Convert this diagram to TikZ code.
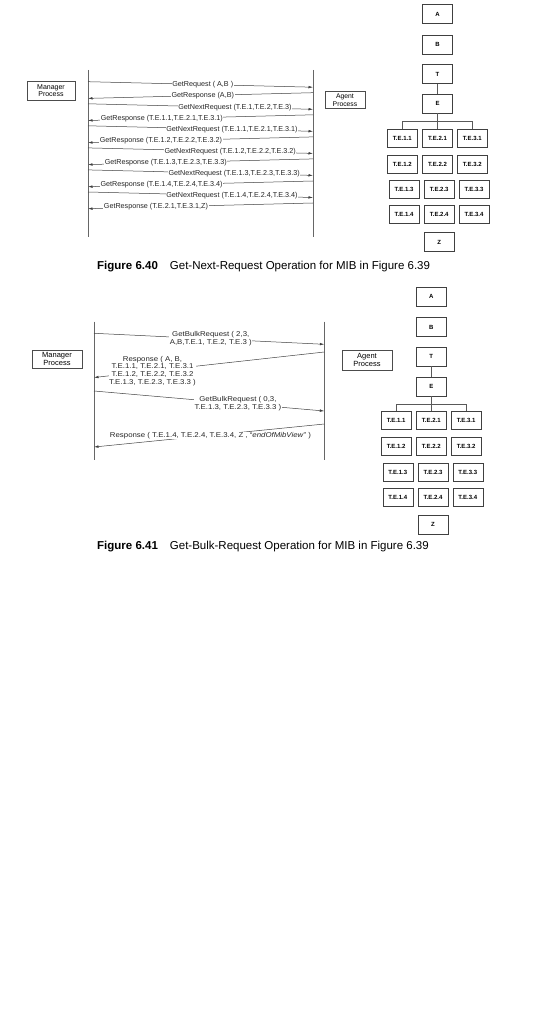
\documentclass[tikz,border=0pt]{standalone}
\usepackage{fontspec}
\setmainfont{Liberation Sans}
\newfontfamily\bulkfam[FakeStretch=1.12]{Liberation Sans}
\usetikzlibrary{arrows.meta,positioning}
\def\seqfont{\fontsize{7.2}{8}\selectfont}
\def\bulkfont{\bulkfam\fontsize{7}{7.7}\selectfont}
\tikzset{
	proc/.style={draw=black!70, line width=0.5pt, minimum width=48pt, minimum height=19pt, inner sep=0pt, align=center, font=\fontsize{7}{7.6}\selectfont},
	life/.style={draw=black!60, line width=0.6pt},
	msg/.style={draw=black!75, line width=0.5pt, -{Latex[length=4.5pt,width=2.6pt]}},
	lbl/.style={fill=white, inner sep=0.6pt, text=black!85, font=\seqfont},
	bulk/.style={lbl, font=\bulkfont, align=center},
	mib/.style={draw=black!75, line width=0.6pt, minimum width=30pt, minimum height=19pt, inner sep=0pt, font=\fontsize{6}{6}\selectfont\bfseries},
	leaf/.style={mib, minimum height=18pt},
	twig/.style={draw=black!65, line width=0.5pt},
	figcap/.style={anchor=west, inner sep=0pt, font=\fontsize{11.5}{13}\selectfont}
}

\begin{document}
\begin{tikzpicture}[x=1pt,y=-1pt]
	%%%%% FRAME %%%%%
	\useasboundingbox (0,0) rectangle (537,1024);
	
	%%%%% FIGURE 6.40 %%%%%
	\node[proc] (mgr1) at (51,90.5) {Manager\\Process};
	\node[proc, minimum width=40pt, minimum height=17pt, font=\fontsize{6.8}{7.4}\selectfont] (agt1) at (345,100) {Agent\\Process};
	
	\coordinate (mgr1top) at (88,70);
	\coordinate (mgr1bot) at (88,237);
	\coordinate (agt1top) at (313,70);
	\coordinate (agt1bot) at (313,237);
	\draw[life] (mgr1top) -- (mgr1bot);
	\draw[life] (agt1top) -- (agt1bot);
	
	% requests, manager -> agent
	\foreach \n/\y/\p/\txt in {1/81.7/0.51/{GetRequest ( A,B )},
			3/103.8/0.653/{GetNextRequest (T.E.1,T.E.2,T.E.3)},
			5/125.8/0.64/{GetNextRequest (T.E.1.1,T.E.2.1,T.E.3.1)},
			7/147.9/0.632/{GetNextRequest (T.E.1.2,T.E.2.2,T.E.3.2)},
			9/169.9/0.65/{GetNextRequest (T.E.1.3,T.E.2.3,T.E.3.3)},
			11/192.0/0.64/{GetNextRequest (T.E.1.4,T.E.2.4,T.E.3.4)}} {
		\coordinate (q\n) at (88,\y);
		\coordinate (r\n) at (313,\y+5.5);
		\draw[msg] (q\n) -- node[lbl,pos=\p] {\txt} (r\n);
	}
	
	% responses, agent -> manager
	\foreach \n/\y/\p/\txt in {2/92.7/0.49/{GetResponse (A,B)},
			4/114.8/0.672/{GetResponse (T.E.1.1,T.E.2.1,T.E.3.1)},
			6/136.9/0.676/{GetResponse (T.E.1.2,T.E.2.2,T.E.3.2)},
			8/158.9/0.654/{GetResponse (T.E.1.3,T.E.2.3,T.E.3.3)},
			10/181.0/0.673/{GetResponse (T.E.1.4,T.E.2.4,T.E.3.4)},
			12/203.0/0.698/{GetResponse (T.E.2.1,T.E.3.1,Z)}} {
		\coordinate (q\n) at (313,\y);
		\coordinate (r\n) at (88,\y+5.7);
		\draw[msg] (q\n) -- node[lbl,pos=\p] {\txt} (r\n);
	}
	
	%%%%% MIB TREES %%%%%
	\foreach \t/\dx/\dy in {a/0/0, b/-6.2/282.6} {
		\begin{scope}[shift={(\dx,\dy)}]
			\node[mib] (\t-A) at (437.5,14) {A};
			\node[mib] (\t-B) at (437.5,44.5) {B};
			\node[mib] (\t-T) at (437.5,74) {T};
			\node[mib] (\t-E) at (437.5,103.7) {E};
			\draw[twig] (\t-T) -- (\t-E);
			\foreach \c/\cx in {1/402.3, 2/437.5, 3/472.3} {
				\node[leaf] (\t-te\c1) at (\cx,138) {T.E.\c.1};
				\node[leaf] (\t-te\c2) at (\cx,164) {T.E.\c.2};
				\node[leaf] (\t-te\c3) at (\cx+1.7,189.5) {T.E.\c.3};
				\node[leaf] (\t-te\c4) at (\cx+1.7,214.5) {T.E.\c.4};
				\draw[twig] (\t-E.south) -- ++(0,8) -| (\t-te\c1.north);
			}
			\node[mib] (\t-Z) at (439.2,242) {Z};
		\end{scope}
	}
	
	\node[figcap] (cap1) at (97,267) {\textbf{Figure 6.40}\hspace{12pt}Get-Next-Request Operation for MIB in Figure 6.39};
	
	%%%%% FIGURE 6.41 %%%%%
	\node[proc, minimum width=50pt, minimum height=18pt, font=\fontsize{7.5}{8}\selectfont] (mgr2) at (57,359) {Manager\\Process};
	\node[proc, minimum width=50pt, minimum height=20pt, font=\fontsize{7.5}{8}\selectfont] (agt2) at (367,360) {Agent\\Process};
	
	\coordinate (mgr2top) at (94,321.7);
	\coordinate (mgr2bot) at (94,460);
	\coordinate (agt2top) at (324.3,321.7);
	\coordinate (agt2bot) at (324.3,460);
	\draw[life] (mgr2top) -- (mgr2bot);
	\draw[life] (agt2top) -- (agt2bot);
	
	\coordinate (b1s) at (94,333.3);
	\coordinate (b1e) at (324.3,344.3);
	\draw[msg] (b1s) -- node[bulk,pos=0.507] {GetBulkRequest ( 2,3,\\A,B,T.E.1, T.E.2, T.E.3 )} (b1e);
	
	\coordinate (b2s) at (324.3,352);
	\coordinate (b2e) at (94,377.5);
	\draw[msg] (b2s) -- node[bulk,pos=0.746] {Response ( A, B,\\T.E.1.1, T.E.2.1, T.E.3.1\\T.E.1.2, T.E.2.2, T.E.3.2\\T.E.1.3, T.E.2.3, T.E.3.3 )} (b2e);
	
	\coordinate (b3s) at (94,391);
	\coordinate (b3e) at (324.3,411);
	\draw[msg] (b3s) -- node[bulk,pos=0.625] {GetBulkRequest ( 0,3,\\T.E.1.3, T.E.2.3, T.E.3.3 )} (b3e);
	
	\coordinate (b4s) at (324.3,424);
	\coordinate (b4e) at (94,447);
	\draw[msg] (b4s) -- node[bulk,pos=0.494] {Response ( T.E.1.4, T.E.2.4, T.E.3.4, Z , “\textit{endOfMibView}” )} (b4e);
	
	\node[figcap] (cap2) at (97,547) {\textbf{Figure 6.41}\hspace{12pt}Get-Bulk-Request Operation for MIB in Figure 6.39};
\end{tikzpicture}
\end{document}
